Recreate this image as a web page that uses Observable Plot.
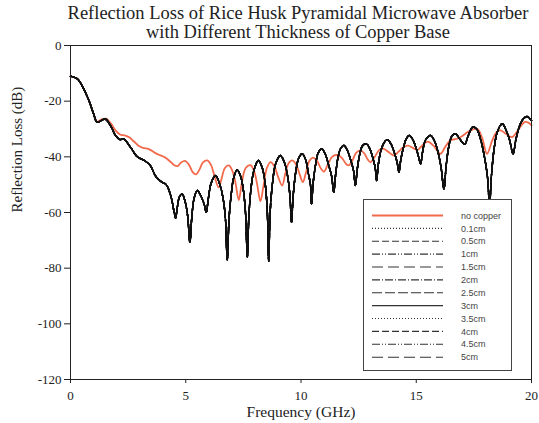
<!DOCTYPE html>
<html><head><meta charset="utf-8">
<script src="https://cdn.jsdelivr.net/npm/d3@7"></script>
<script src="https://cdn.jsdelivr.net/npm/@observablehq/plot@0.6"></script>
<style>
body{margin:0;background:#fff;}
#wrap{position:relative;width:539px;height:423px;overflow:hidden;}
#title{width:539px;height:38px;box-sizing:border-box;padding-top:4px;padding-left:57px;font-family:"Liberation Serif",serif;font-size:18.5px;line-height:19px;text-align:center;color:#222;white-space:nowrap;}
#legend{position:absolute;left:363px;top:199px;}
</style></head>
<body><div id="wrap"><div id="title"></div><div id="chart"></div><svg id="legend" width="150" height="173"></svg></div>
<script>
// ---- data ----
const titleLines = ["Reflection Loss of Rice Husk Pyramidal Microwave Absorber", "with Different Thickness of Copper Base"];
const xLabel = "Frequency (GHz)";
const yLabel = "Reflection Loss (dB)";
const xTicks = [0, 5, 10, 15, 20];
const yTicks = [0, -20, -40, -60, -80, -100, -120];
const noCopperName = "no copper";
const thicknesses = ["0.1cm","0.5cm","1cm","1.5cm","2cm","2.5cm","3cm","3.5cm","4cm","4.5cm","5cm"];
// [GHz, dB]; curves with copper base overlap each other
const copperCurve = [[0,-11],[0.3,-12],[0.5,-14.4],[0.8,-19.8],[1.0,-24.5],[1.16,-27.6],[1.5,-26.4],[1.75,-29],[1.95,-32.3],[2.15,-33.8],[2.3,-33.5],[2.6,-36.5],[2.9,-40],[3.2,-41.3],[3.45,-43],[3.7,-47],[3.95,-49],[4.15,-50],[4.35,-54],[4.5,-60],[4.56,-62],[4.62,-59],[4.72,-54.5],[4.84,-53.3],[4.97,-56],[5.08,-61],[5.18,-70.7],[5.26,-62],[5.36,-55],[5.5,-52.1],[5.68,-54.5],[5.8,-57],[5.89,-59.9],[5.98,-55],[6.1,-49.5],[6.29,-46.7],[6.48,-50],[6.62,-55],[6.72,-62],[6.8,-77],[6.88,-62],[6.98,-53],[7.08,-47.5],[7.23,-44.7],[7.38,-47],[7.5,-52],[7.6,-61],[7.67,-76],[7.74,-61],[7.85,-50],[7.97,-44.5],[8.15,-41.3],[8.32,-44],[8.45,-50],[8.54,-60],[8.6,-77.5],[8.66,-60],[8.77,-49],[8.9,-42.5],[9.1,-39.5],[9.28,-42],[9.42,-47],[9.52,-54],[9.59,-63.5],[9.66,-54],[9.78,-45],[9.9,-40.5],[10.05,-38.9],[10.2,-41],[10.32,-46],[10.41,-50],[10.46,-57],[10.52,-50],[10.63,-43],[10.75,-38.5],[10.9,-37.1],[11.05,-39],[11.2,-43],[11.33,-47],[11.42,-52.7],[11.5,-46.5],[11.6,-40.5],[11.72,-37],[11.86,-35.9],[12.0,-37.5],[12.15,-41],[12.28,-45],[12.36,-50.3],[12.44,-44.5],[12.55,-39],[12.67,-36],[12.83,-35.3],[12.98,-37],[13.12,-40.5],[13.22,-44],[13.28,-48.5],[13.35,-43],[13.46,-38],[13.6,-35],[13.74,-33.8],[13.9,-35.3],[14.05,-38.5],[14.17,-42],[14.25,-45.5],[14.33,-41],[14.45,-36.5],[14.57,-33.5],[14.7,-32.3],[14.85,-33.8],[15.0,-37],[15.1,-40],[15.19,-42.5],[15.27,-38.5],[15.4,-34],[15.62,-32.3],[15.8,-34.5],[15.95,-38.5],[16.08,-44],[16.2,-51.5],[16.3,-43],[16.42,-36],[16.55,-32.5],[16.7,-31.7],[16.88,-33.5],[17.1,-35.5],[17.25,-32.5],[17.45,-29.3],[17.62,-30],[17.8,-34],[17.98,-41],[18.1,-48],[18.18,-58],[18.26,-47],[18.38,-37],[18.52,-31],[18.73,-28.1],[18.9,-30.5],[19.05,-34],[19.2,-38.9],[19.33,-33.5],[19.5,-28.5],[19.65,-26.3],[19.81,-25.5],[19.93,-26.3],[20,-27]];
const noCopperCurve = [[0,-11],[0.3,-12],[0.5,-14.4],[0.8,-19.8],[1.0,-24.5],[1.16,-27.4],[1.35,-26.5],[1.55,-26.3],[1.75,-28],[1.95,-30.5],[2.15,-32],[2.35,-32.3],[2.55,-33],[2.75,-34.5],[2.95,-36],[3.15,-36.8],[3.4,-37.2],[3.65,-38.5],[3.9,-39.5],[4.1,-40.2],[4.3,-41.5],[4.5,-43],[4.65,-43.3],[4.8,-42],[4.99,-41.5],[5.15,-43],[5.3,-45.5],[5.45,-46.3],[5.6,-44.5],[5.75,-42],[5.93,-41.3],[6.1,-43],[6.25,-47],[6.43,-51],[6.55,-48],[6.7,-44],[6.87,-43.1],[7.02,-45],[7.15,-49],[7.3,-55.5],[7.42,-50],[7.6,-44],[7.81,-43],[7.98,-45.5],[8.1,-50],[8.24,-56],[8.38,-50],[8.52,-44],[8.68,-41.9],[8.85,-43.5],[9.0,-47],[9.18,-50.3],[9.32,-46],[9.45,-42.5],[9.62,-41.3],[9.8,-43],[9.95,-46.5],[10.08,-49.1],[10.22,-45.5],[10.36,-41.5],[10.52,-40.3],[10.7,-41.5],[10.85,-44],[11.0,-45.3],[11.15,-43],[11.35,-40],[11.57,-39.3],[11.78,-40.5],[11.95,-42.5],[12.07,-43.1],[12.22,-41.5],[12.4,-38.5],[12.58,-37.7],[12.75,-38.8],[12.9,-41],[13.02,-41.9],[13.2,-40],[13.4,-37.5],[13.59,-37.1],[13.8,-38.3],[14.03,-39.5],[14.25,-38],[14.45,-36.5],[14.65,-36],[14.85,-36.8],[15.05,-37.5],[15.25,-36],[15.5,-34.5],[15.75,-36],[16.05,-38.9],[16.25,-36.5],[16.5,-34],[16.78,-33.5],[17.0,-32.5],[17.25,-31],[17.64,-29.9],[17.85,-33],[18.07,-38.9],[18.3,-34],[18.5,-31],[18.66,-30.5],[18.85,-31.5],[19.16,-32.9],[19.45,-30],[19.7,-27.5],[19.88,-27.8],[20,-28.7]];

// ---- styles ----
const red = "#f26a4b";
const dashes = {"0.1cm":"1,2","0.5cm":"7,3","1cm":"8,2,1,2,1,2","1.5cm":"11,5","2cm":"8,2,1,2","2.5cm":"10,3","3cm":null,"3.5cm":"1,2","4cm":"7,3","4.5cm":"8,2,1,2,1,2","5cm":"11,5"};

document.getElementById("title").innerHTML = titleLines.join("<br>");

const noCopperRows = noCopperCurve.map(([f, rl]) => ({f, rl}));
const copperMarks = thicknesses.map(t => Plot.line(copperCurve.map(([f, rl]) => ({f, rl, t})), {
  x: "f", y: "rl", stroke: "#111", strokeWidth: 1.4, strokeDasharray: dashes[t] ?? undefined, curve: "catmull-rom"
}));

const chart = Plot.plot({
  width: 539, height: 385,
  marginTop: 7, marginLeft: 70, marginRight: 8, marginBottom: 44,
  style: {fontFamily: "Liberation Serif, serif", fontSize: "13px", color: "#222", background: "transparent", overflow: "visible"},
  x: {domain: [0, 20]},
  y: {domain: [-120, 0]},
  marks: [
    Plot.line(noCopperRows, {x: "f", y: "rl", stroke: red, strokeWidth: 1.8, curve: "catmull-rom"}),
    ...copperMarks,
    Plot.frame({stroke: "#222"}),
    Plot.axisX(xTicks, {tickSize: 4, tickPadding: 7, label: null, tickFormat: d => String(d)}),
    Plot.axisY(yTicks, {tickSize: 6, tickPadding: 3, label: null, tickFormat: d => String(d)}),
    Plot.text([xLabel], {frameAnchor: "bottom", dy: 37, fontSize: 15.5}),
    Plot.text([yLabel], {frameAnchor: "left", dx: -53, rotate: -90, fontSize: 15})
  ]
});
document.getElementById("chart").appendChild(chart);

// ---- legend ----
const lg = d3.select("#legend");
lg.append("rect").attr("x", 0.5).attr("y", 0.5).attr("width", 148).attr("height", 171)
  .attr("fill", "#fff").attr("stroke", "#444").attr("stroke-width", 1);
const items = [{name: noCopperName, color: red, dash: null, w: 2}]
  .concat(thicknesses.map(t => ({name: t, color: "#333", dash: dashes[t], w: 1.1})));
items.forEach((it, i) => {
  const y = 16.5 + i * 12.88;
  lg.append("line").attr("x1", 9).attr("x2", 80).attr("y1", y).attr("y2", y)
    .attr("stroke", it.color).attr("stroke-width", it.w).attr("stroke-dasharray", it.dash);
  lg.append("text").attr("x", 98).attr("y", y).attr("dy", "0.35em")
    .attr("font-family", "Liberation Sans, Arial, sans-serif").attr("font-size", 9).attr("fill", "#444").text(it.name);
});
</script></body></html>
